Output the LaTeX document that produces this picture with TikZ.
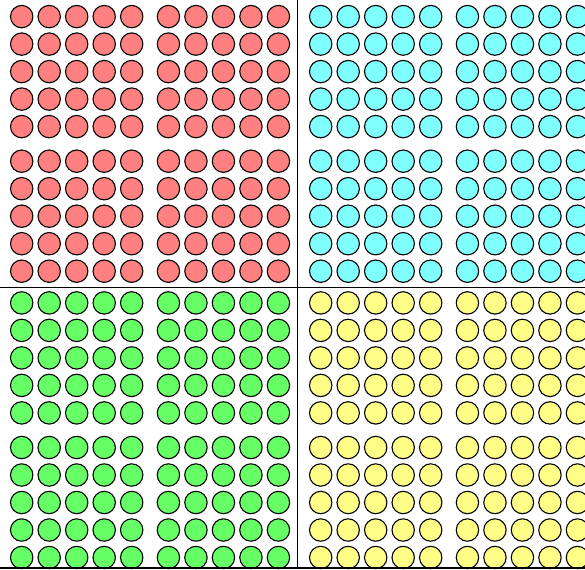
\documentclass[tikz,border=0pt]{standalone}
\usepackage{tikz}

\definecolor{dotred}{RGB}{255,128,128}
\definecolor{dotcyan}{RGB}{128,255,255}
\definecolor{dotgreen}{RGB}{102,255,102}
\definecolor{dotyellow}{RGB}{255,255,136}

\tikzset{
  dot/.style={draw=black, line width=1.1pt},
  divider/.style={draw=black, line width=1pt}
}

\begin{document}
\begin{tikzpicture}[x=1pt, y=-1pt]
  \useasboundingbox (0,0) rectangle (585,569);
  \clip (0,0) rectangle (585,569);

  % four quadrants, each of 2x2 blocks of 5x5 dots
  \foreach \fillcol/\qx/\qy in {dotred/0/0, dotcyan/299/0, dotgreen/0/286.3, dotyellow/299/286.3} {
    \foreach \bx in {0,146.75}
      \foreach \by in {0,144.6}
        \foreach \i in {0,...,4}
          \foreach \j in {0,...,4}
            \draw[dot, fill=\fillcol] (21.7+\qx+\bx+27.5*\i, 16.6+\qy+\by+27.5*\j) circle[radius=11.2];
  }

  \draw[divider] (297.3,0) -- (297.3,567.5);
  \draw[divider] (0,287.3) -- (585,287.3);
  \draw[divider, line width=2pt] (0,567.5) -- (585,567.5);
\end{tikzpicture}
\end{document}
